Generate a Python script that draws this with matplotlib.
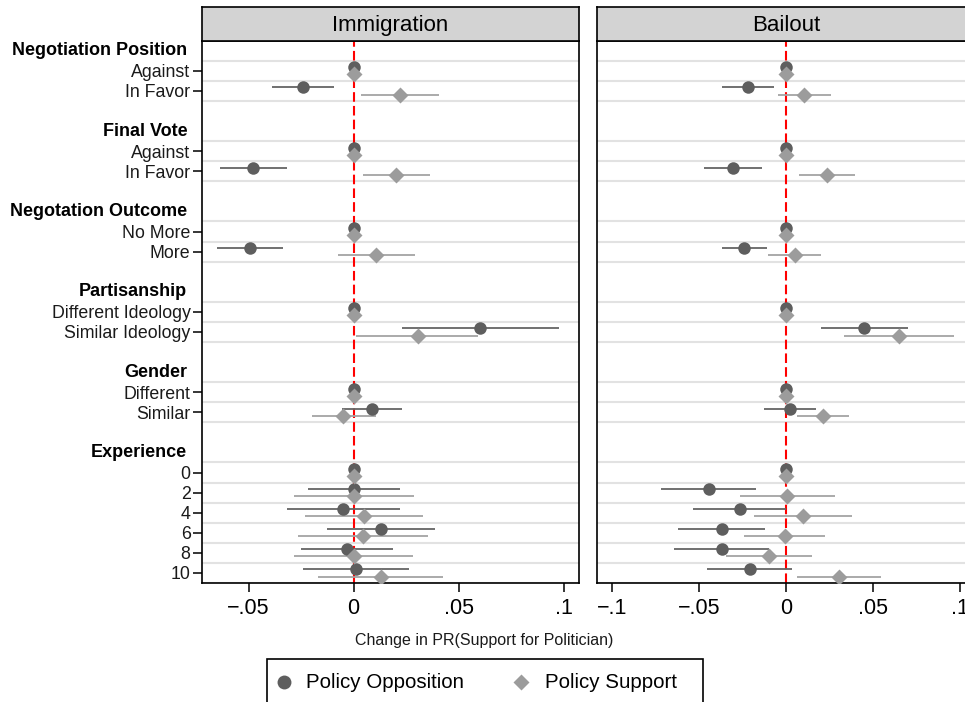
import matplotlib
matplotlib.use("Agg")
import matplotlib.pyplot as plt
from matplotlib.lines import Line2D
from matplotlib.patches import Rectangle
import numpy as np

plt.rcParams['font.family'] = ['Liberation Sans', 'DejaVu Sans']

# ---- data -------------------------------------------------------------
groups = ["Negotiation Position", "Final Vote", "Negotation Outcome",
          "Partisanship", "Gender", "Experience"]
levels = [["Against", "In Favor"],
          ["Against", "In Favor"],
          ["No More", "More"],
          ["Different Ideology", "Similar Ideology"],
          ["Different", "Similar"],
          ["0", "2", "4", "6", "8", "10"]]

panels = ["Immigration", "Bailout"]
series = ["Policy Opposition", "Policy Support"]

# Immigration: estimates and 95% intervals (flattened in level order)
imm_opp    = [0, -0.0241, 0, -0.0477, 0, -0.0495, 0, 0.0602, 0, 0.0086,
              0, 0.0000, -0.0050, 0.0129, -0.0032, 0.0009]
imm_opp_lo = [0, -0.0389, 0, -0.0638, 0, -0.0652, 0, 0.0229, 0, -0.0054,
              0, -0.0218, -0.0318, -0.0129, -0.0250, -0.0241]
imm_opp_hi = [0, -0.0093, 0, -0.0316, 0, -0.0334, 0, 0.0979, 0, 0.0232,
              0, 0.0220, 0.0220, 0.0388, 0.0186, 0.0261]
imm_sup    = [0, 0.0220, 0, 0.0202, 0, 0.0107, 0, 0.0304, 0, -0.0050,
              0, 0.0000, 0.0050, 0.0043, 0.0000, 0.0129]
imm_sup_lo = [0, 0.0036, 0, 0.0045, 0, -0.0075, 0, 0.0013, 0, -0.0200,
              0, -0.0286, -0.0232, -0.0263, -0.0284, -0.0168]
imm_sup_hi = [0, 0.0404, 0, 0.0361, 0, 0.0291, 0, 0.0593, 0, 0.0104,
              0, 0.0289, 0.0332, 0.0352, 0.0284, 0.0425]

# Bailout
bail_opp    = [0, -0.0216, 0, -0.0304, 0, -0.0241, 0, 0.0446, 0, 0.0025,
               0, -0.0444, -0.0264, -0.0369, -0.0365, -0.0208]
bail_opp_lo = [0, -0.0365, 0, -0.0468, 0, -0.0369, 0, 0.0199, 0, -0.0128,
               0, -0.0719, -0.0532, -0.0618, -0.0641, -0.0453]
bail_opp_hi = [0, -0.0067, 0, -0.0136, 0, -0.0107, 0, 0.0700, 0, 0.0174,
               0, -0.0170, 0.0000, -0.0122, -0.0099, 0.0036]
bail_sup    = [0, 0.0105, 0, 0.0235, 0, 0.0050, 0, 0.0650, 0, 0.0212,
               0, 0.0006, 0.0098, -0.0008, -0.0099, 0.0304]
bail_sup_lo = [0, -0.0046, 0, 0.0075, 0, -0.0105, 0, 0.0335, 0, 0.0063,
               0, -0.0266, -0.0184, -0.0241, -0.0342, 0.0063]
bail_sup_hi = [0, 0.0256, 0, 0.0398, 0, 0.0199, 0, 0.0964, 0, 0.0359,
               0, 0.0279, 0.0380, 0.0224, 0.0147, 0.0543]

left_ticks = [-0.05, 0, 0.05, 0.1]
right_ticks = [-0.1, -0.05, 0, 0.05, 0.1]

# ---- styling ----------------------------------------------------------
OPP_MARK, OPP_LINE = "#5e5e5e", "#646464"
SUP_MARK, SUP_LINE = "#9c9c9c", "#a4a4a4"
GRID = "#e2e2e2"
HEAD_BG = "#d3d3d3"
OFF = 0.18
MS_CIRCLE, MS_DIAMOND = 9.0, 8.0

W, H = 965, 702
fig = plt.figure(figsize=(W / 100, H / 100), dpi=100)


def fig_rect(x0, y0, x1, y1):
    return [x0 / W, 1 - y1 / H, (x1 - x0) / W, (y1 - y0) / H]


# row layout: header row, item rows, blank row per group
header_rows, item_rows, item_labels = [], [], []
r = 0
for g, lv in zip(groups, levels):
    header_rows.append(r)
    for k, name in enumerate(lv):
        item_rows.append(r + 1 + k)
        item_labels.append(name)
    r += len(lv) + 2
n_rows = r - 1
item_rows = np.array(item_rows, dtype=float)


def fmt(v):
    if abs(v) < 1e-12:
        return "0"
    s = f"{abs(v):g}".lstrip("0")
    return ("\u2212" if v < 0 else "") + s


def draw_panel(ax, opp, opp_lo, opp_hi, sup, sup_lo, sup_hi, xlim, ticks):
    ax.set_xlim(*xlim)
    ax.set_ylim(n_rows - 0.5, -0.5)
    for h, lv in zip(header_rows, levels):
        for k in range(len(lv) + 1):
            ax.axhline(h + 0.5 + k, color=GRID, lw=1.5, zorder=0.5)
    ax.axvline(0, color="#ff0000", lw=1.5, ls=(0, (4.6, 2.0)), zorder=1)
    for y, lo, hi in zip(item_rows - OFF, opp_lo, opp_hi):
        if hi > lo:
            ax.hlines(y, lo, hi, color=OPP_LINE, lw=1.3, zorder=2)
    for y, lo, hi in zip(item_rows + OFF, sup_lo, sup_hi):
        if hi > lo:
            ax.hlines(y, lo, hi, color=SUP_LINE, lw=1.3, zorder=2)
    ax.plot(opp, item_rows - OFF, "o", ms=MS_CIRCLE, color=OPP_MARK, mec="none", zorder=3)
    ax.plot(sup, item_rows + OFF, "D", ms=MS_DIAMOND, color=SUP_MARK, mec="none", zorder=4)
    ax.set_xticks(ticks)
    ax.set_xticklabels([fmt(t) for t in ticks], fontsize=15.5)
    ax.tick_params(axis="x", length=6.5, width=1.1, pad=4)
    for s in ax.spines.values():
        s.set_linewidth(1.2)


ax_l = fig.add_axes(fig_rect(201.7, 40.7, 579, 583))
ax_r = fig.add_axes(fig_rect(597, 40.7, 975, 583))

draw_panel(ax_l, imm_opp, imm_opp_lo, imm_opp_hi, imm_sup, imm_sup_lo, imm_sup_hi,
           (-0.0723, 0.1072), left_ticks)
draw_panel(ax_r, bail_opp, bail_opp_lo, bail_opp_hi, bail_sup, bail_sup_lo, bail_sup_hi,
           (-0.1085, 0.1085), right_ticks)

ax_l.set_yticks(item_rows)
ax_l.set_yticklabels(item_labels, fontsize=12.8, color="#1a1a1a")
ax_l.tick_params(axis="y", length=6.5, width=1.1, pad=1.5)
for h, g in zip(header_rows, groups):
    ax_l.text(-0.038, h, g, transform=ax_l.get_yaxis_transform(), ha="right",
              va="center", fontsize=13, fontweight="bold")
ax_r.tick_params(axis="y", left=False, labelleft=False)

# panel headers
for (x0, x1), title in zip([(201.7, 579), (597, 975)], panels):
    hd = fig.add_axes(fig_rect(x0, 7.3, x1, 40.7))
    hd.set_facecolor(HEAD_BG)
    hd.set_xticks([])
    hd.set_yticks([])
    for s in hd.spines.values():
        s.set_linewidth(1.2)
    hd.text(0.5, 0.47, title, ha="center", va="center", fontsize=16,
            transform=hd.transAxes)

fig.text(484 / W, 1 - 645.3 / H, "Change in PR(Support for Politician)",
         ha="center", va="baseline", fontsize=11.5, color="#1a1a1a")

# legend
fig.add_artist(Rectangle((266.7 / W, -0.05), (703 - 266.7) / W, (1 - 659.3 / H) + 0.05,
                         transform=fig.transFigure, fill=False, ec="black", lw=1.2))
ly = 1 - 681.5 / H
fig.add_artist(Line2D([283.5 / W], [ly], marker="o", ms=MS_CIRCLE + 1, color=OPP_MARK,
                      mec="none", transform=fig.transFigure))
fig.text(306.5 / W, 1 - 688 / H, series[0], ha="left", va="baseline", fontsize=14.8)
fig.add_artist(Line2D([521 / W], [ly], marker="D", ms=MS_DIAMOND + 0.6, color=SUP_MARK,
                      mec="none", transform=fig.transFigure))
fig.text(545 / W, 1 - 688 / H, series[1], ha="left", va="baseline", fontsize=14.8)

fig.savefig("out.png", dpi=100)
